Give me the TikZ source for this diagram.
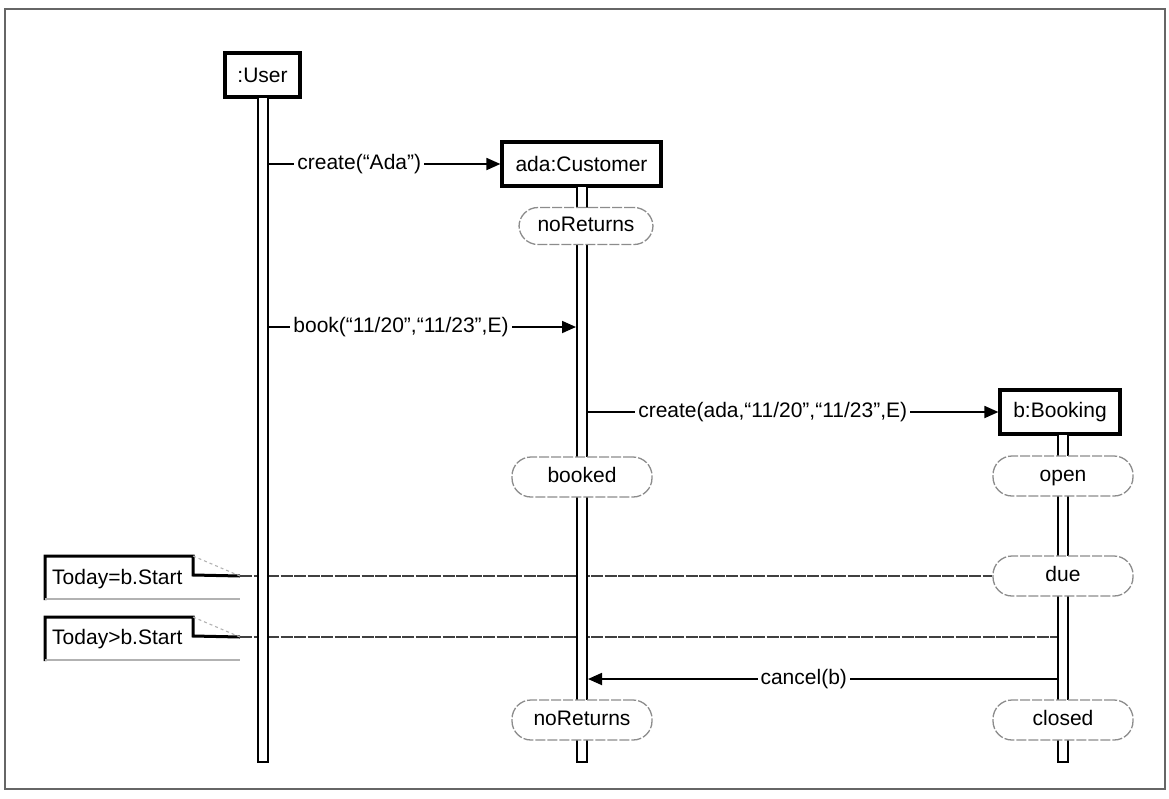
\documentclass[tikz,border=0pt]{standalone}
\usepackage{fontspec}
\setmainfont{Liberation Sans}
\usetikzlibrary{arrows.meta,backgrounds}
\begin{document}
\begin{tikzpicture}[x=1pt,y=-1pt,
  font=\fontsize{21}{25}\selectfont,
  obj/.style={draw,line width=3.2pt,fill=white,inner sep=0pt,minimum height=44pt},
  stt/.style={draw=black!45,line width=1.3pt,dash pattern=on 10pt off 2pt,fill=white,rounded corners=19pt,minimum width=140pt,minimum height=40pt,inner sep=0pt,text height=15pt,text depth=4pt},
  bar/.style={draw,line width=2pt,fill=white,minimum width=10pt,inner sep=0pt},
  msg/.style={line width=1.8pt,-{Triangle[length=14pt,width=12pt]}},
  lbl/.style={fill=white,inner sep=3pt},
  anch/.style={line width=1.8pt,black!75,dash pattern=on 12pt off 1.5pt},
  notetext/.style={anchor=west,inner sep=0pt},
  notethick/.style={line width=3pt,line join=miter},
  notefaint/.style={black!30,line width=1.1pt},
]
\useasboundingbox (0,0) rectangle (1169,798);

% objects
\node[obj,minimum width=75pt] (user) at (262.5,75) {:User};
\node[obj,minimum width=159pt] (cust) at (581.5,164) {ada:Customer};
\node[obj,minimum width=120pt] (book) at (1060,412) {b:Booking};

% activation bars / lifelines
\node[bar,minimum height=665pt] (ubar) at (263,429.5) {};
\node[bar,minimum height=576pt] (cbar) at (582,474) {};
\node[bar,minimum height=328pt] (bbar) at (1063,598) {};

% states
\node[stt,minimum width=134pt,minimum height=37pt] (s1) at (586,226) {noReturns};
\node[stt] (s2) at (582,477) {booked};
\node[stt] (s3) at (1063,476) {open};
\node[stt] (s4) at (1063,576) {due};
\node[stt] (s5) at (1063,720) {closed};
\node[stt] (s6) at (582,720) {noReturns};

% notes
\node[notetext] (n1) at (52,579) {Today=b.Start};
\node[notetext] (n2) at (52,639) {Today>b.Start};
\coordinate (a1) at (240,576);
\coordinate (a2) at (240,637);

\begin{pgfonlayer}{background}
  \draw[black!60,line width=1.5pt] (5,9) rectangle (1165,789);
  \draw[anch] (a1) -- (s4.west);
  \draw[anch] (a2) -- (bbar.west |- a2);
\end{pgfonlayer}

% note shapes
\draw[notethick] (45,600) -- (45,556) -- (193,556) -- (193,575) -- (a1);
\draw[notefaint,dashed] (193,556) -- (a1);
\draw[notefaint] (45,599) -- (240,599);
\draw[notethick] (45,661) -- (45,617) -- (193,617) -- (193,636) -- (a2);
\draw[notefaint,dashed] (193,617) -- (a2);
\draw[notefaint] (45,660) -- (240,660);

% messages
\draw[msg] (ubar.east |- cust.west) -- node[lbl,pos=0.39] {create(“Ada”)} (cust.west);
\draw[msg] (ubar.east |- 0,327) -- node[lbl,pos=0.43] {book(“11/20”,“11/23”,E)} (cbar.west |- 0,327);
\draw[msg] (cbar.east |- book.west) -- node[lbl,pos=0.45] {create(ada,“11/20”,“11/23”,E)} (book.west);
\draw[msg] (bbar.west |- 0,679) -- node[lbl,pos=0.54] {cancel(b)} (cbar.east |- 0,679);
\end{tikzpicture}
\end{document}
